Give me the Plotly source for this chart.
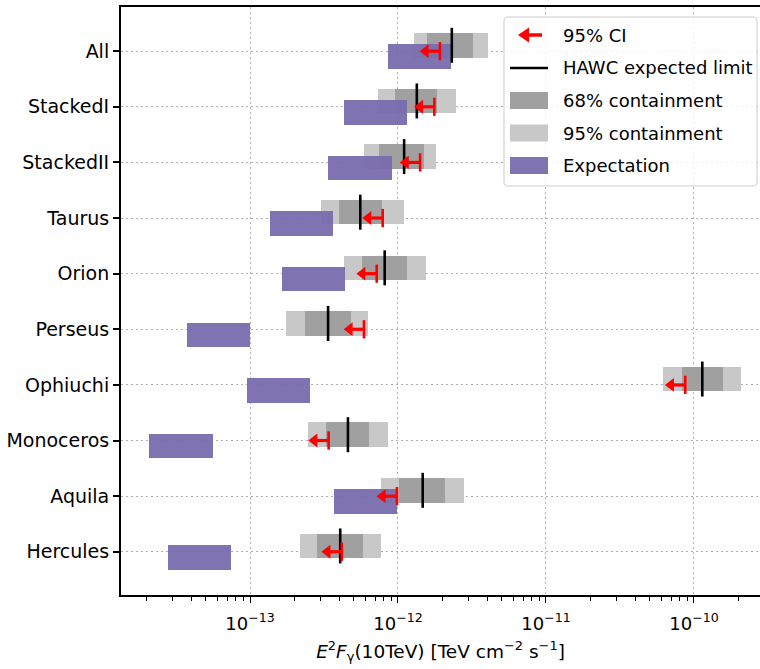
import plotly.graph_objects as go

# ---------------- data ----------------
regions = ["All", "StackedI", "StackedII", "Taurus", "Orion", "Perseus",
           "Ophiuchi", "Monoceros", "Aquila", "Hercules"]
ci95_limit = [1.92e-12, 1.76e-12, 1.41e-12, 7.88e-13, 7.18e-13, 5.89e-13,
              8.73e-11, 3.40e-13, 9.84e-13, 4.17e-13]
expected_limit = [2.31e-12, 1.34e-12, 1.10e-12, 5.56e-13, 8.13e-13, 3.37e-13,
                  1.138e-10, 4.59e-13, 1.469e-12, 4.07e-13]
c68_low = [1.578e-12, 9.55e-13, 7.44e-13, 3.99e-13, 5.71e-13, 2.37e-13,
           8.30e-11, 3.26e-13, 1.02e-12, 2.84e-13]
c68_high = [3.23e-12, 1.84e-12, 1.51e-12, 7.83e-13, 1.145e-12, 4.79e-13,
            1.578e-10, 6.40e-13, 2.07e-12, 5.77e-13]
c95_low = [1.282e-12, 7.29e-13, 5.92e-13, 3.03e-13, 4.32e-13, 1.75e-13,
           6.15e-11, 2.45e-13, 7.71e-13, 2.19e-13]
c95_high = [4.04e-12, 2.48e-12, 1.81e-12, 1.10e-12, 1.546e-12, 6.27e-13,
            2.067e-10, 8.52e-13, 2.79e-12, 7.64e-13]
exp_low = [8.51e-13, 4.34e-13, 3.38e-13, 1.365e-13, 1.637e-13, 3.73e-14,
           9.5e-14, 2.09e-14, 3.68e-13, 2.81e-14]
exp_high = [2.28e-12, 1.156e-12, 9.07e-13, 3.66e-13, 4.38e-13, 1.0e-13,
            2.555e-13, 5.65e-14, 9.89e-13, 7.48e-14]

x_tick_vals = [1e-13, 1e-12, 1e-11, 1e-10]
x_tick_text = ["10<sup>−13</sup>", "10<sup>−12</sup>", "10<sup>−11</sup>", "10<sup>−10</sup>"]
legend_labels = ["95% CI", "HAWC expected limit", "68% containment",
                 "95% containment", "Expectation"]

# ---------------- style ----------------
FONT = "DejaVu Sans"
FS_Y = 19
FS_X = 18
FS_LEG = 18
FS_TITLE = 18.5
C95 = "#c8c8c8"
C68 = "#a0a0a0"
CPUR = "rgba(120,108,174,0.95)"
RED = "#ff0000"
BOX_H = 0.44
GRAY_OFF = -0.105
PUR_OFF = 0.10
ARROW_FRAC = 0.80

idx = list(range(len(regions)))
y_gray = [i + GRAY_OFF for i in idx]
y_pur = [i + PUR_OFF for i in idx]

fig = go.Figure()

def hbar(lo, hi, ypos, color):
    fig.add_trace(go.Bar(
        orientation="h", y=ypos, base=lo,
        x=[h - l for l, h in zip(lo, hi)],
        width=BOX_H, marker=dict(color=color, line=dict(width=0)),
        showlegend=False, hoverinfo="skip"))

hbar(c95_low, c95_high, y_gray, C95)
hbar(c68_low, c68_high, y_gray, C68)
hbar(exp_low, exp_high, y_pur, CPUR)

# expected limit (black vertical line)
fig.add_trace(go.Scatter(
    x=expected_limit, y=y_gray, mode="markers",
    marker=dict(symbol="line-ns", size=25, color="black",
                line=dict(width=2.6, color="black")),
    showlegend=False, hoverinfo="skip"))

# 95% CI upper-limit arrows
shaft_x, shaft_y = [], []
for v, i in zip(ci95_limit, idx):
    shaft_x += [v, v * ARROW_FRAC, None]
    shaft_y += [i, i, None]
fig.add_trace(go.Scatter(
    x=shaft_x, y=shaft_y, mode="lines",
    line=dict(color=RED, width=3.2), showlegend=False, hoverinfo="skip"))
fig.add_trace(go.Scatter(
    x=[v * ARROW_FRAC for v in ci95_limit], y=idx, mode="markers",
    marker=dict(symbol="triangle-left", size=12, color=RED, line=dict(width=0)),
    showlegend=False, hoverinfo="skip"))
fig.add_trace(go.Scatter(
    x=ci95_limit, y=idx, mode="markers",
    marker=dict(symbol="line-ns", size=13, color=RED,
                line=dict(width=2.6, color=RED)),
    showlegend=False, hoverinfo="skip"))

# ---------------- layout ----------------
W, H = 760, 669
ML, MR, MT, MB = 121, 0, 7, 74
PW, PH = W - ML - MR, H - MT - MB

def px(x):
    return (x - ML) / PW

def py(y):
    return (H - MB - y) / PH

minor_vals = [m * 10.0 ** e for e in range(-14, -9) for m in range(2, 10)]

fig.update_layout(
    width=W, height=H,
    margin=dict(l=ML, r=MR, t=MT, b=MB, pad=0),
    plot_bgcolor="white", paper_bgcolor="white",
    barmode="overlay", bargap=0,
    showlegend=False,
    font=dict(family=FONT, size=FS_X, color="black"),
    xaxis=dict(
        type="log", range=[-13.8716, -9.554],
        tickvals=x_tick_vals, ticktext=x_tick_text,
        ticks="outside", ticklen=6, tickwidth=1.3, tickcolor="black",
        ticklabelstandoff=5,
        showline=True, linecolor="black", linewidth=2, mirror=True,
        showgrid=True, gridcolor="#b0b0b0", gridwidth=1.2, griddash="2px,3px",
        zeroline=False, layer="above traces",
        tickfont=dict(family=FONT, size=FS_X),
        minor=dict(tickvals=minor_vals, ticks="outside", ticklen=3.5,
                   tickwidth=1, tickcolor="black", showgrid=False),
        title=dict(text="<i>E</i><sup>2</sup><i>F</i><sub>γ</sub>(10TeV) [TeV cm<sup>−2</sup> s<sup>−1</sup>]",
                   font=dict(family=FONT, size=FS_TITLE), standoff=12),
    ),
    yaxis=dict(
        range=[9.777, -0.794],
        tickvals=idx, ticktext=regions,
        ticks="outside", ticklen=6, tickwidth=1.5, tickcolor="black",
        showline=True, linecolor="black", linewidth=2, mirror=False,
        showgrid=True, gridcolor="#b0b0b0", gridwidth=1.2, griddash="2px,3px",
        zeroline=False, layer="above traces",
        tickfont=dict(family=FONT, size=FS_Y),
    ),
)

# ---------------- legend (drawn manually to match wide patches) ----------------
bx0, bx1, by0, by1, rr = 504, 757, 17, 186, 4
def P(x, y):
    return f"{px(x):.5f},{py(y):.5f}"
box_path = (f"M{P(bx0 + rr, by0)} L{P(bx1 - rr, by0)} Q{P(bx1, by0)} {P(bx1, by0 + rr)} "
            f"L{P(bx1, by1 - rr)} Q{P(bx1, by1)} {P(bx1 - rr, by1)} "
            f"L{P(bx0 + rr, by1)} Q{P(bx0, by1)} {P(bx0, by1 - rr)} "
            f"L{P(bx0, by0 + rr)} Q{P(bx0, by0)} {P(bx0 + rr, by0)} Z")
fig.add_shape(type="path", path=box_path, xref="paper", yref="paper",
              fillcolor="rgba(255,255,255,0.8)", line=dict(color="#cccccc", width=1),
              layer="above")

rows_y = [35, 68, 100.5, 133, 165.5]
sx0, sx1 = 510, 548
# arrow
fig.add_shape(type="line", xref="paper", yref="paper",
              x0=px(527), x1=px(542), y0=py(rows_y[0]), y1=py(rows_y[0]),
              line=dict(color=RED, width=3.5), layer="above")
fig.add_shape(type="path", xref="paper", yref="paper",
              path=f"M{P(518, rows_y[0])} L{P(529, rows_y[0] - 7.5)} L{P(529, rows_y[0] + 7.5)} Z",
              fillcolor=RED, line=dict(width=0), layer="above")
# black line
fig.add_shape(type="line", xref="paper", yref="paper",
              x0=px(sx0), x1=px(sx1), y0=py(rows_y[1]), y1=py(rows_y[1]),
              line=dict(color="black", width=2.6), layer="above")
# patches
for yy, col in zip(rows_y[2:], [C68, C95, CPUR]):
    fig.add_shape(type="rect", xref="paper", yref="paper",
                  x0=px(sx0), x1=px(sx1), y0=py(yy - 8.5), y1=py(yy + 8.5),
                  fillcolor=col, line=dict(width=0), layer="above")
for yy, lab in zip(rows_y, legend_labels):
    fig.add_annotation(x=px(561), y=py(yy), xref="paper", yref="paper",
                       text=lab, showarrow=False, xanchor="left", yanchor="middle",
                       font=dict(family=FONT, size=FS_LEG, color="black"))

fig.write_html("out.html")
